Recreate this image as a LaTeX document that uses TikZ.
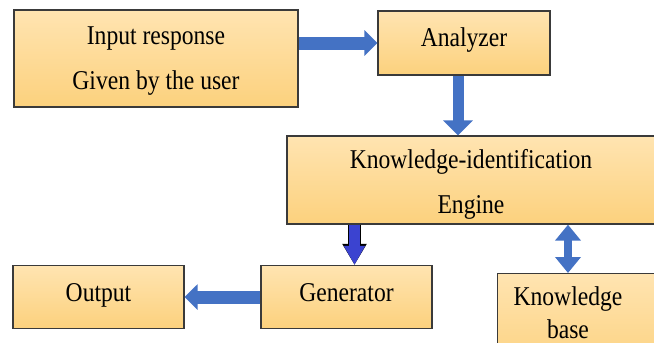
\documentclass[tikz,border=0pt]{standalone}
\usepackage{fontspec}
\setmainfont{Liberation Serif}
\usetikzlibrary{arrows.meta}
\definecolor{boxtop}{HTML}{FFE4B1}
\definecolor{boxbot}{HTML}{FCD17D}
\definecolor{boxline}{HTML}{3A3A3A}
\definecolor{flowblue}{HTML}{4472C4}
\definecolor{genblue}{HTML}{3B43D0}
\newcommand{\tallline}[2][0pt]{\raisebox{#1}[\height][\depth]{\scalebox{1}[1.15]{#2}}}
\begin{document}
\begin{tikzpicture}[x=1pt, y=-1pt,
    box/.style={draw=boxline, line width=1.3pt, top color=boxtop, bottom color=boxbot, align=center, inner sep=0pt,
        font=\fontsize{23.6}{45}\selectfont},
    lbl/.style={align=center, inner sep=0pt, font=\fontsize{23.6}{33}\selectfont},
    blockarrow/.style={draw=flowblue, line width=13pt, -{Triangle[width=25pt,length=13pt]}},
    genarrow/.style={draw=genblue, line width=11.5pt, -{Triangle[width=20pt,length=19pt]},
        preaction={draw=black, line width=13.5pt, -{Triangle[width=23pt,length=21pt]}}}]
    \useasboundingbox (0,0) rectangle (654,343);
    \node[box, minimum width=284, minimum height=97] (input) at (156,58.5) {\tallline[-2.5pt]{Input response}\\\tallline[-2.5pt]{Given by the user}};
    \node[box, minimum width=172, minimum height=64] (analyzer) at (464,43) {\tallline[3pt]{Analyzer}};
    \node[box, minimum width=368, minimum height=88] (kie) at (471,180) {\tallline[-4.5pt]{Knowledge-identification}\\\tallline[-4.5pt]{Engine}};
    \node[box, minimum width=171, minimum height=63] (gen) at (346.5,297) {\tallline[4pt]{Generator}};
    \node[box, minimum width=171, minimum height=63] (out) at (98.5,297) {\tallline[2pt]{Output}};
    \node[box, anchor=north west, minimum width=200, minimum height=100] (kb) at (497,273) {};
    \node[lbl] (kblbl) at (568,313) {\tallline{Knowledge}\\\tallline{base}};
    \draw[blockarrow] (input.east |- analyzer.west) -- (analyzer.west);
    \draw[blockarrow, line width=11pt, -{Triangle[width=29pt,length=15pt]}] ([xshift=-6pt]analyzer.south) -- ([xshift=-6pt]analyzer.south |- kie.north);
    \draw[genarrow] ([xshift=8pt]gen.north |- kie.south) -- ([xshift=8pt]gen.north);
    \draw[blockarrow] (gen.west) -- (out.east);
    \draw[blockarrow, line width=8pt, {Triangle[width=25pt,length=16pt]}-{Triangle[width=25pt,length=16pt]}] (kie.south -| kblbl) -- (kb.north -| kblbl);
\end{tikzpicture}
\end{document}
